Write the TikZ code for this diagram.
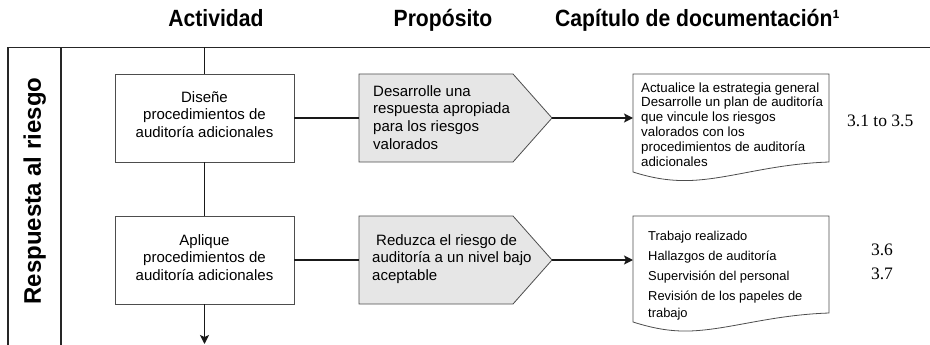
\documentclass[tikz,border=0pt]{standalone}
\usepackage{fontspec}
\setmainfont{Liberation Sans}
\newfontfamily\timesf{Liberation Serif}
\newfontfamily\headfont[FakeStretch=0.9]{Liberation Sans}
\usetikzlibrary{arrows.meta}
\definecolor{edgegray}{HTML}{4D4D4D}
\definecolor{fillgray}{HTML}{E6E6E6}
\begin{document}
\begin{tikzpicture}[x=1pt,y=-1pt,
 frame/.style={line width=1.3pt, draw=black!85},
 box/.style={draw=edgegray, line width=0.8pt, minimum width=179pt, minimum height=88pt, inner sep=0pt},
 boxtext/.style={font=\fontsize{15}{17.6}\selectfont, align=center, inner sep=0pt, anchor=north},
 penttext/.style={font=\fontsize{15}{17.6}\selectfont, align=left, inner sep=0pt, anchor=north west},
 pent/.style={draw=edgegray, fill=fillgray, line width=0.8pt},
 doc/.style={draw=edgegray, fill=white, line width=0.8pt},
 doctext/.style={align=left, inner sep=0pt, anchor=north west},
 conn/.style={line width=1.4pt, draw=black!90},
 arr/.style={conn, -{Stealth[length=9pt,width=9pt,inset=2pt]}},
 head/.style={font=\headfont\bfseries\fontsize{23.5}{28}\selectfont, inner sep=0pt, anchor=base},
 num/.style={font=\timesf\fontsize{17.5}{21}\selectfont, inner sep=0pt, anchor=base}
]
\useasboundingbox (0,0) rectangle (930,345);

% headers
\node[head] (h1) at (216,26.7) {Actividad};
\node[head] (h2) at (443,26.7) {Propósito};
\node[head, anchor=base west] (h3) at (555,26.7) {Capítulo de documentación¹};

% frame
\draw[frame] (8,345) -- (8,47.5) -- (930,47.5);
\draw[frame] (61,47.5) -- (61,345);
\coordinate (ftop) at (204.5,47.5);
\coordinate (fbot) at (204.5,344);
\node[font=\bfseries\fontsize{24}{28}\selectfont, rotate=90, anchor=base, inner sep=0pt] (lane) at (41,191) {Respuesta al riesgo};

% activity boxes
\node[box] (b1) at (204.5,118) {};
\node[box] (b2) at (204.5,260) {};
\node[boxtext] (t1) at (204.5,91.3) {Diseñe\\procedimientos de\\auditoría adicionales};
\node[boxtext] (t2) at (204.5,234.3) {Aplique\\procedimientos de\\auditoría adicionales};

% purpose pentagons
\draw[pent] (359,74) -- (513,74) -- (552,118) -- (513,162) -- (359,162) -- cycle;
\draw[pent] (359,216) -- (513,216) -- (552,260) -- (513,304) -- (359,304) -- cycle;
\coordinate (p1in) at (359,118);
\coordinate (p1tip) at (552,118);
\coordinate (p2in) at (359,260);
\coordinate (p2tip) at (552,260);
\node[penttext] (pt1) at (373,85.3) {Desarrolle una\\respuesta apropiada\\para los riesgos\\valorados};
\node[penttext] (pt2) at (372,234.3) {\hspace*{4pt}Reduzca el riesgo de\\auditoría a un nivel bajo\\aceptable};

% documents
\draw[doc] (633,74) -- (829,74) -- (829,162) .. controls (770,164) and (730,179) .. (690,180.5) .. controls (672,181) and (655,179) .. (633,172) -- cycle;
\draw[doc] (633,216) -- (829,216) -- (829,313) .. controls (770,315) and (730,329.5) .. (690,331) .. controls (672,331.5) and (655,329) .. (633,322) -- cycle;
\coordinate (d1in) at (633,118);
\coordinate (d2in) at (633,260);
\node[doctext, font=\fontsize{13.3}{14.8}\selectfont] (dt1) at (641,82.3) {Actualice la estrategia general\\Desarrolle un plan de auditoría\\que vincule los riesgos\\valorados con los\\procedimientos de auditoría\\adicionales};
\node[doctext, font=\fontsize{12.9}{20}\selectfont] (dt2) at (648,230.7) {Trabajo realizado\\Hallazgos de auditoría\\Supervisión del personal\\Revisión de los papeles de\\[-3pt]trabajo};

% chapter numbers
\node[num, anchor=base west] (n1) at (847,126) {3.1 to 3.5};
\node[num] (n2) at (882,255) {3.6};
\node[num] (n3) at (882,279) {3.7};

% connectors
\draw[conn] (ftop) -- (b1.north);
\draw[conn] (b1.south) -- (b2.north);
\draw[arr] (b2.south) -- (fbot);
\draw[conn] (b1.east) -- (p1in);
\draw[conn] (b2.east) -- (p2in);
\draw[arr] (p1tip) -- (d1in);
\draw[arr] (p2tip) -- (d2in);
\end{tikzpicture}
\end{document}
